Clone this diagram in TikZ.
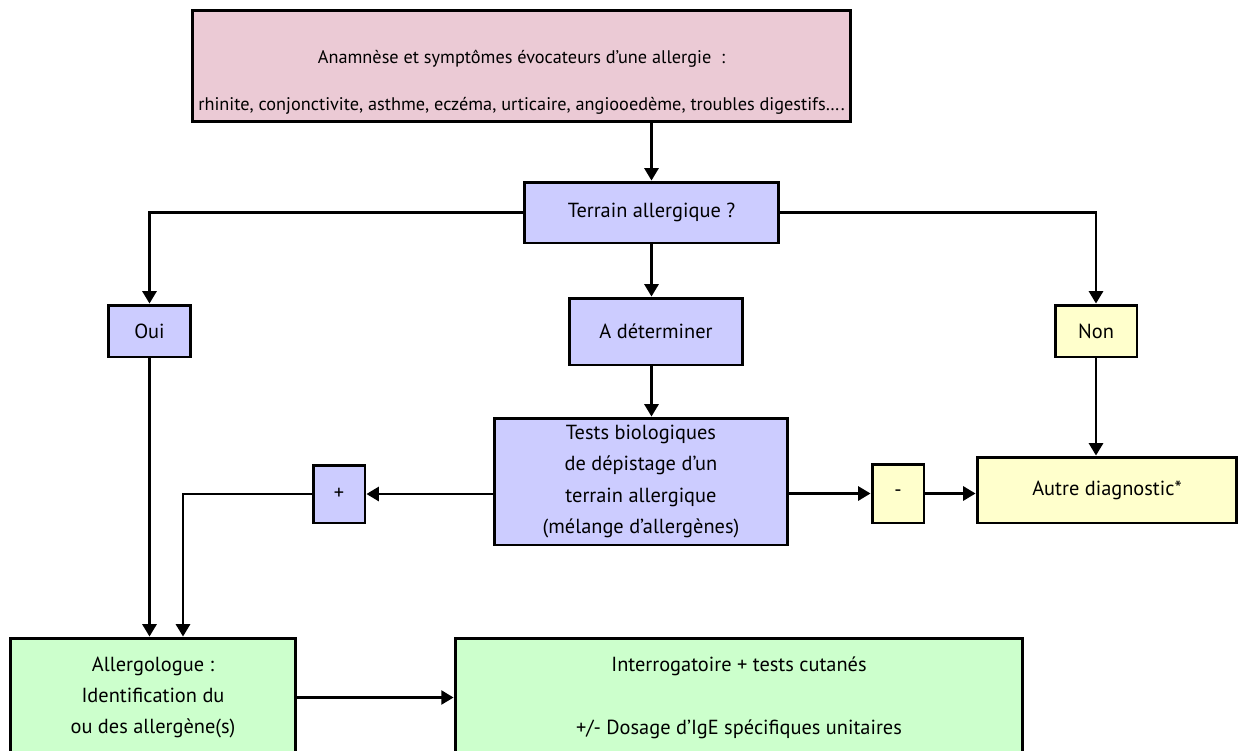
\documentclass[tikz,border=0pt]{standalone}
\usepackage{fontspec}
\setmainfont{PT Sans}
\usetikzlibrary{arrows.meta,positioning}
\definecolor{rose}{HTML}{EBCAD5}
\definecolor{lilas}{HTML}{CCCCFF}
\definecolor{jaune}{HTML}{FFFFCC}
\definecolor{vert}{HTML}{CCFFCC}
\tikzset{
  boite/.style={draw, line width=1.7pt, align=center, inner sep=0pt,
    font=\fontsize{11.6}{17.9}\selectfont},
  fleche/.style={-{Triangle[length=7pt,width=8pt]}, line width=1.4pt},
}

\begin{document}
\begin{tikzpicture}[x=0.02cm,y=-0.02cm]
\useasboundingbox (0,0) rectangle (1249,751);
% boites
\node[boite, fill=rose, minimum width=13.18cm, minimum height=2.24cm,
  font=\fontsize{10.4}{17.9}\selectfont] (anamnese) at (521.5,66)
  {\rule{0pt}{26pt}Anamnèse et symptômes évocateurs d’une allergie~~:\\[9.3pt]
   rhinite, conjonctivite, asthme, eczéma, urticaire, angiooedème, troubles digestifs….};
\node[boite, fill=lilas, minimum width=5.1cm, minimum height=1.22cm] (terrain) at (651.5,212.5) {Terrain allergique ?};
\node[boite, fill=lilas, minimum width=1.66cm, minimum height=1.04cm] (oui) at (149.5,331) {Oui};
\node[boite, fill=lilas, minimum width=3.46cm, minimum height=1.34cm] (adet) at (656,331.5) {A déterminer};
\node[boite, fill=jaune, minimum width=1.64cm, minimum height=1.04cm] (non) at (1096,331) {Non};
\node[boite, fill=lilas, minimum width=5.86cm, minimum height=2.54cm] (tests) at (641,481.5)
  {Tests biologiques\\de dépistage d’un\\terrain allergique\\(mélange d’allergènes)};
\node[boite, fill=lilas, minimum width=1.04cm, minimum height=1.16cm] (plus) at (339,494) {+};
\node[boite, fill=jaune, minimum width=1.04cm, minimum height=1.18cm] (moins) at (898,493.5) {-};
\node[boite, fill=jaune, minimum width=5.2cm, minimum height=1.32cm] (autre) at (1107,490) {Autre diagnostic*};
\node[boite, fill=vert, minimum width=5.72cm, minimum height=2.38cm] (allergo) at (153,697.5)
  {Allergologue :\\Identification du\\ou des allergène(s)};
\node[boite, fill=vert, minimum width=11.36cm, minimum height=2.38cm] (interro) at (739,697.5)
  {Interrogatoire + tests cutanés\\[18.1pt]+/- Dosage d’IgE spécifiques unitaires};
% fleches
\draw[fleche] (anamnese.south -| terrain.north) -- (terrain.north);
\draw[fleche] (terrain.west) -| (oui.north);
\draw[fleche] (terrain.east) -| (non.north);
\draw[fleche] (terrain.south) -- (terrain.south |- adet.north);
\draw[fleche] (terrain.south |- adet.south) -- (terrain.south |- tests.north);
\draw[fleche] (plus.east -| tests.west) -- (plus.east);
\draw[fleche] (plus.west) -| ([xshift=0.6cm]allergo.north);
\draw[fleche] (oui.south) -- (oui.south |- allergo.north);
\draw[fleche] (moins.west -| tests.east) -- (moins.west);
\draw[fleche] (moins.east) -- (moins.east -| autre.west);
\draw[fleche] (non.south) -- (non.south |- autre.north);
\draw[fleche] (allergo.east) -- (interro.west);
\end{tikzpicture}
\end{document}
